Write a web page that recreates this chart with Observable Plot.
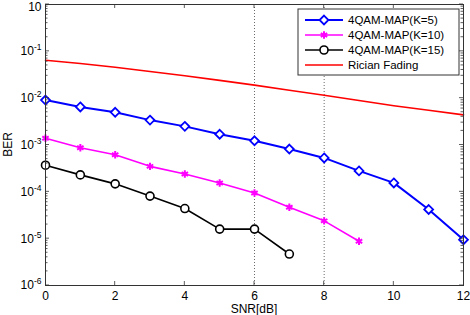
<!DOCTYPE html>
<html>
<head>
<meta charset="utf-8">
<script src="https://cdn.jsdelivr.net/npm/d3@7"></script>
<script src="https://cdn.jsdelivr.net/npm/@observablehq/plot@0.6"></script>
<style>
  html, body { margin: 0; padding: 0; background: #fff; }
  #chart { width: 470px; height: 315px; }
</style>
</head>
<body>
<div id="chart"></div>
<script>
// ---- data ----
const snr = [0, 1, 2, 3, 4, 5, 6, 7, 8, 9, 10, 11, 12];
const berK5 = [0.0091, 0.0065, 0.0050, 0.0034, 0.0025, 0.0017, 0.00123, 0.00082, 0.00053, 0.00028, 0.000155, 0.000042, 0.0000095];
const berK10 = [0.0014, 0.00087, 0.00062, 0.00035, 0.00024, 0.000154, 0.000094, 0.000047, 0.000024, 0.0000088];
const berK15 = [0.00037, 0.00023, 0.000148, 0.000081, 0.000044, 0.000016, 0.000016, 0.0000047];
const berRician = [0.0646, 0.055, 0.0457, 0.0372, 0.0302, 0.024, 0.019, 0.0148, 0.0115, 0.0089, 0.0069, 0.0055, 0.0044];
const seriesNames = ["4QAM-MAP(K=5)", "4QAM-MAP(K=10)", "4QAM-MAP(K=15)", "Rician Fading"];
const seriesColors = ["#0000ff", "#ff00ff", "#000000", "#ff0000"];
const xTicks = [0, 2, 4, 6, 8, 10, 12];
const yTicks = [1e-6, 1e-5, 1e-4, 1e-3, 1e-2, 1e-1, 1];
const yTickLabels = ["10^-6", "10^-5", "10^-4", "10^-3", "10^-2", "10^-1", "10"];
const gridX = [6, 8];
const xLabel = "SNR[dB]";
const yLabel = "BER";

const mk = (vals, name) => vals.map((v, i) => ({snr: snr[i], ber: v, series: name}));
const dK5 = mk(berK5, seriesNames[0]);
const dK10 = mk(berK10, seriesNames[1]);
const dK15 = mk(berK15, seriesNames[2]);
const dRic = mk(berRician, seriesNames[3]);

const FONT = "'Liberation Sans', Arial, sans-serif";

const chart = Plot.plot({
  width: 470,
  height: 315,
  marginLeft: 45,
  marginRight: 7,
  marginTop: 4,
  marginBottom: 30,
  style: {fontFamily: FONT, fontSize: "12px", background: "#fff", color: "#000"},
  x: {domain: [0, 12]},
  y: {type: "log", domain: [1e-6, 1]},
  marks: [
    Plot.ruleX(gridX, {x: d => d, stroke: "#444", strokeWidth: 0.8, strokeDasharray: "1,2"}),
    Plot.line(dRic, {x: "snr", y: "ber", stroke: seriesColors[3], strokeWidth: 1.6}),
    Plot.line(dK5, {x: "snr", y: "ber", stroke: seriesColors[0], strokeWidth: 2}),
    Plot.line(dK10, {x: "snr", y: "ber", stroke: seriesColors[1], strokeWidth: 1.6}),
    Plot.line(dK15, {x: "snr", y: "ber", stroke: seriesColors[2], strokeWidth: 1.6}),
    Plot.dot(dK5, {x: "snr", y: "ber", symbol: "diamond2", r: 4, stroke: seriesColors[0], fill: "#fff", strokeWidth: 1.8}),
    Plot.dot(dK10, {x: "snr", y: "ber", symbol: "asterisk", r: 3.5, stroke: seriesColors[1], strokeWidth: 2}),
    Plot.dot(dK15, {x: "snr", y: "ber", symbol: "circle", r: 4, stroke: seriesColors[2], fill: "#fff", strokeWidth: 1.6}),
    Plot.frame({stroke: "#333", strokeWidth: 1}),
    Plot.axisX(xTicks, {tickSize: 0, tickPadding: 6, label: null, fontSize: 12}),
    Plot.axisY(yTicks, {tickSize: 0, tickPadding: 4, label: null, fontSize: 12,
      tickFormat: d => yTickLabels[yTicks.indexOf(d)]})
  ]
});
document.getElementById("chart").appendChild(chart);

// ---- post-processing: superscripts, inward ticks, titles, legend ----
const svg = d3.select(chart);
svg.selectAll('g[aria-label="y-axis tick label"] text').each(function() {
  const t = d3.select(this);
  const s = t.text();
  const parts = s.split("^");
  t.text(parts[0]);
  if (parts.length > 1) {
    t.append("tspan").attr("dy", "-5").attr("font-size", "8.5px").text(parts[1]);
  } else {
    // top label sits against the upper edge: nudge it down so it stays visible
    const tr = t.attr("transform") || "";
    t.attr("transform", tr + " translate(0,2.5)");
  }
});

const xs = chart.scale("x"), ys = chart.scale("y");
const x0 = xs.apply(0), x1 = xs.apply(12);
const yTop = ys.apply(1), yBot = ys.apply(1e-6);
const tg = svg.append("g").attr("stroke", "#333").attr("stroke-width", 0.8);
xTicks.slice(1, -1).forEach(v => {
  const px = xs.apply(v);
  tg.append("line").attr("x1", px).attr("x2", px).attr("y1", yBot).attr("y2", yBot - 4);
  tg.append("line").attr("x1", px).attr("x2", px).attr("y1", yTop).attr("y2", yTop + 4);
});
yTicks.forEach((v, i) => {
  const py = ys.apply(v);
  tg.append("line").attr("x1", x0).attr("x2", x0 + 4).attr("y1", py).attr("y2", py);
  tg.append("line").attr("x1", x1).attr("x2", x1 - 4).attr("y1", py).attr("y2", py);
  if (i < yTicks.length - 1) {
    for (let k = 2; k <= 9; k++) {
      const pm = ys.apply(v * k);
      tg.append("line").attr("x1", x0).attr("x2", x0 + 2.5).attr("y1", pm).attr("y2", pm);
      tg.append("line").attr("x1", x1).attr("x2", x1 - 2.5).attr("y1", pm).attr("y2", pm);
    }
  }
});

svg.append("text").attr("x", (x0 + x1) / 2).attr("y", 313)
  .attr("text-anchor", "middle").attr("font-family", FONT).attr("font-size", "12px").text(xLabel);
svg.append("text").attr("transform", `translate(12,${(yTop + yBot) / 2}) rotate(-90)`)
  .attr("text-anchor", "middle").attr("font-family", FONT).attr("font-size", "12px").text(yLabel);

// legend
const lg = svg.append("g");
lg.append("rect").attr("x", 298).attr("y", 9).attr("width", 161).attr("height", 66)
  .attr("fill", "#fff").attr("stroke", "#333").attr("stroke-width", 1);
const symTypes = [d3.symbolDiamond2, d3.symbolAsterisk, d3.symbolCircle, null];
const symR = [4, 3.5, 4, 0];
const symFill = ["#fff", "none", "#fff", "none"];
const symSW = [1.8, 2, 1.6, 0];
const lineSW = [2, 1.6, 1.6, 1.6];
seriesNames.forEach((name, i) => {
  const cy = 20 + i * 15;
  lg.append("line").attr("x1", 305).attr("x2", 343).attr("y1", cy).attr("y2", cy)
    .attr("stroke", seriesColors[i]).attr("stroke-width", lineSW[i]);
  if (symTypes[i]) {
    lg.append("path").attr("transform", `translate(324,${cy})`)
      .attr("d", d3.symbol().type(symTypes[i]).size(symR[i] * symR[i] * Math.PI)())
      .attr("fill", symFill[i]).attr("stroke", seriesColors[i]).attr("stroke-width", symSW[i]);
  }
  lg.append("text").attr("x", 348).attr("y", cy).attr("dy", "0.36em")
    .attr("text-anchor", "start")
    .attr("font-family", FONT).attr("font-size", "11.5px").text(name);
});
</script>
</body>
</html>
